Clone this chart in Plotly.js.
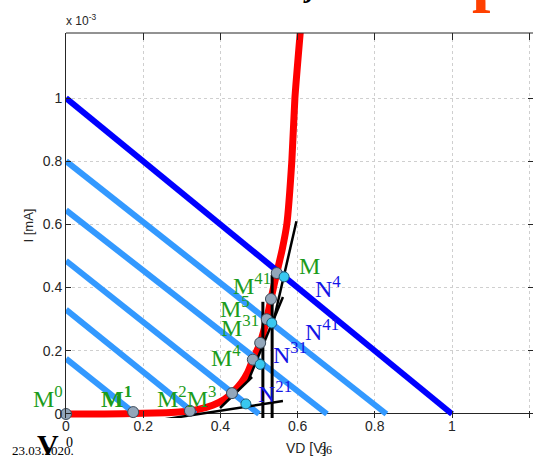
<!DOCTYPE html>
<html>
<head>
<meta charset="utf-8">
<script src="https://cdn.plot.ly/plotly-3.0.1.min.js"></script>
<style>html,body{margin:0;padding:0;background:#fff;}#chart{width:533px;height:459px;}</style>
</head>
<body>
<div id="chart"></div>
<script>
// ---- data (I in units of 1e-3 A) ----
var diodeV = [0, 0.1, 0.2, 0.26, 0.3, 0.34, 0.38, 0.41, 0.43, 0.455, 0.47, 0.484, 0.503, 0.52, 0.531, 0.546, 0.56, 0.572, 0.585, 0.593, 0.607];
var diodeI = [0, 0, 0.002, 0.004, 0.007, 0.014, 0.028, 0.046, 0.066, 0.10, 0.13, 0.172, 0.225, 0.30, 0.364, 0.446, 0.52, 0.60, 0.80, 1.0, 1.21];

var loadMainV = [0, 1.0];
var loadMainI = [1.0, 0];

var loadStartI = [0.175, 0.33, 0.485, 0.645, 0.80];
var loadEndV   = [0.18, 0.335, 0.50, 0.676, 0.83];

var tangentV = [[0.228, 0.562], [0.399, 0.482], [0.472, 0.562], [0.535, 0.597]];
var tangentI = [[-0.022, 0.041], [0.019, 0.117], [0.105, 0.37], [0.28, 0.61]];

var verticalV = [0.51, 0.534];
var verticalTopI = [0.355, 0.44];
var verticalBottomI = [-0.06, -0.06];

var pointsMV = [0, 0.174, 0.321, 0.43, 0.484, 0.503, 0.52, 0.531, 0.546];
var pointsMI = [0, 0.006, 0.01, 0.066, 0.172, 0.225, 0.30, 0.364, 0.446];

var pointsNV = [0.466, 0.503, 0.533, 0.565];
var pointsNI = [0.032, 0.157, 0.288, 0.434];

var xTicks = [0, 0.2, 0.4, 0.6, 0.8, 1, 1.2];
var xTickText = ["0", "0.2", "0.4", "0.6", "0.8", "1", "1.2"];
var yTicks = [0, 0.2, 0.4, 0.6, 0.8, 1];
var yTickText = ["0", "0.2", "0.4", "0.6", "0.8", "1"];

// ---- traces ----
var traces = [];
traces.push({x: diodeV, y: diodeI, mode: 'lines', line: {color: '#ff0000', width: 7, shape: 'spline', smoothing: 0.5}, showlegend: false});
traces.push({x: loadMainV, y: loadMainI, mode: 'lines', line: {color: '#0000ff', width: 6}, showlegend: false});
for (var k = 0; k < loadStartI.length; k++) {
  traces.push({x: [0, loadEndV[k]], y: [loadStartI[k], 0], mode: 'lines', line: {color: '#3399ff', width: 6}, showlegend: false});
}
for (var k = 0; k < tangentV.length; k++) {
  traces.push({x: tangentV[k], y: tangentI[k], mode: 'lines', line: {color: '#000000', width: 2.5}, showlegend: false});
}
for (var k = 0; k < verticalV.length; k++) {
  traces.push({x: [verticalV[k], verticalV[k]], y: [verticalTopI[k], verticalBottomI[k]], mode: 'lines', line: {color: '#000000', width: 3}, showlegend: false});
}
traces.push({x: pointsMV, y: pointsMI, mode: 'markers', cliponaxis: false,
  marker: {color: '#93a6ba', size: 11, line: {color: '#3c4a58', width: 1}}, showlegend: false});
traces.push({x: pointsNV, y: pointsNI, mode: 'markers', cliponaxis: false,
  marker: {color: '#38c8f0', size: 10, line: {color: '#1f5f7a', width: 1}}, showlegend: false});

// ---- layout helpers ----
// plot area: left 66, top 33, bottom 418 (I=0 at pixel 414)
var L = 66, T = 33, W = 467, H = 385;
function px(x) { return (x - L) / W; }
function py(y) { return (T + H - y) / H; }

var green = '#1c9c1c', blue = '#1414e6';
var serif = 'Liberation Serif, Times New Roman, serif';
var sans = 'Liberation Sans, Arial, sans-serif';
function lab(text, cx, cy, color, bold) {
  return {xref: 'paper', yref: 'paper', x: px(cx), y: py(cy), xanchor: 'center', yanchor: 'middle',
    text: bold ? '<b>' + text + '</b>' : text, showarrow: false,
    font: {family: serif, size: 24, color: color}};
}
function txt(text, cx, cy, xa, ya, font) {
  return {xref: 'paper', yref: 'paper', x: px(cx), y: py(cy), xanchor: xa, yanchor: ya,
    text: text, showarrow: false, font: font};
}

var annotations = [
  lab('M<sup>0</sup>', 48, 397, green),
  lab('M<sup>1</sup>', 116, 397, green, true),
  lab('M<sup>2</sup>M<sup>3</sup>', 186, 397, green),
  lab('M<sup>4</sup>', 226, 356, green),
  lab('M<sup>31</sup>', 240, 326, green),
  lab('M<sup>5</sup>', 235, 307, green),
  lab('M<sup>41</sup>', 252, 284, green),
  lab('M', 309, 266, green),
  lab('N<sup>4</sup>', 328, 287, blue),
  lab('N<sup>41</sup>', 322, 330, blue),
  lab('N<sup>31</sup>', 290, 353, blue),
  lab('N<sup>21</sup>', 275, 392, blue),
  txt('x 10<sup>-3</sup>', 64, 30, 'left', 'bottom', {family: sans, size: 12, color: '#262626'}),
  txt('VD [V]', 306, 448, 'center', 'middle', {family: sans, size: 14, color: '#262626'}),
  txt('23.03.2020.', 10, 451, 'left', 'middle', {family: serif, size: 13, color: '#000'}),
  txt('<b>V</b>', 48, 444, 'center', 'middle', {family: serif, size: 30, color: '#000'}),
  txt('0', 69, 442, 'center', 'middle', {family: serif, size: 14, color: '#000'}),
  txt('36', 326, 450, 'center', 'middle', {family: serif, size: 12, color: '#000'}),
  txt('<b><i>j</i></b>', 309, 5, 'center', 'bottom', {family: serif, size: 28, color: '#000'}),
  txt('<b>p</b>', 490, 15, 'center', 'bottom', {family: serif, size: 66, color: '#ff4000'})
];

var axisFont = {family: sans, size: 14, color: '#262626'};

var layout = {
  width: 533, height: 459,
  margin: {l: L, r: 0, t: T, b: 459 - T - H},
  paper_bgcolor: '#ffffff', plot_bgcolor: '#ffffff',
  showlegend: false,
  xaxis: {
    range: [0, 1.2098], tickmode: 'array', tickvals: xTicks, ticktext: xTickText,
    ticks: 'inside', ticklen: 7, tickcolor: '#262626', tickwidth: 1,
    showline: false, mirror: 'ticks',
    showgrid: true, gridcolor: '#cfcfcf', griddash: 'dot', gridwidth: 1,
    zeroline: false, tickfont: axisFont, ticklabelstandoff: -2
  },
  yaxis: {
    range: [-0.0127, 1.2057], tickmode: 'array', tickvals: yTicks, ticktext: yTickText,
    ticks: 'inside', ticklen: 5, tickcolor: '#262626', tickwidth: 1,
    showline: true, linecolor: '#262626', linewidth: 1, mirror: 'ticks',
    showgrid: true, gridcolor: '#cfcfcf', griddash: 'dot', gridwidth: 1,
    zeroline: true, zerolinecolor: '#262626', zerolinewidth: 1,
    tickfont: axisFont,
    title: {text: 'I [mA]', standoff: 6, font: {family: sans, size: 13, color: '#262626'}}
  },
  shapes: [
    {type: 'line', xref: 'paper', yref: 'paper', x0: 0, x1: 1, y0: 1, y1: 1, line: {color: '#262626', width: 1}}
  ],
  annotations: annotations
};

Plotly.newPlot('chart', traces, layout, {displayModeBar: false, staticPlot: true});
</script>
</body>
</html>
